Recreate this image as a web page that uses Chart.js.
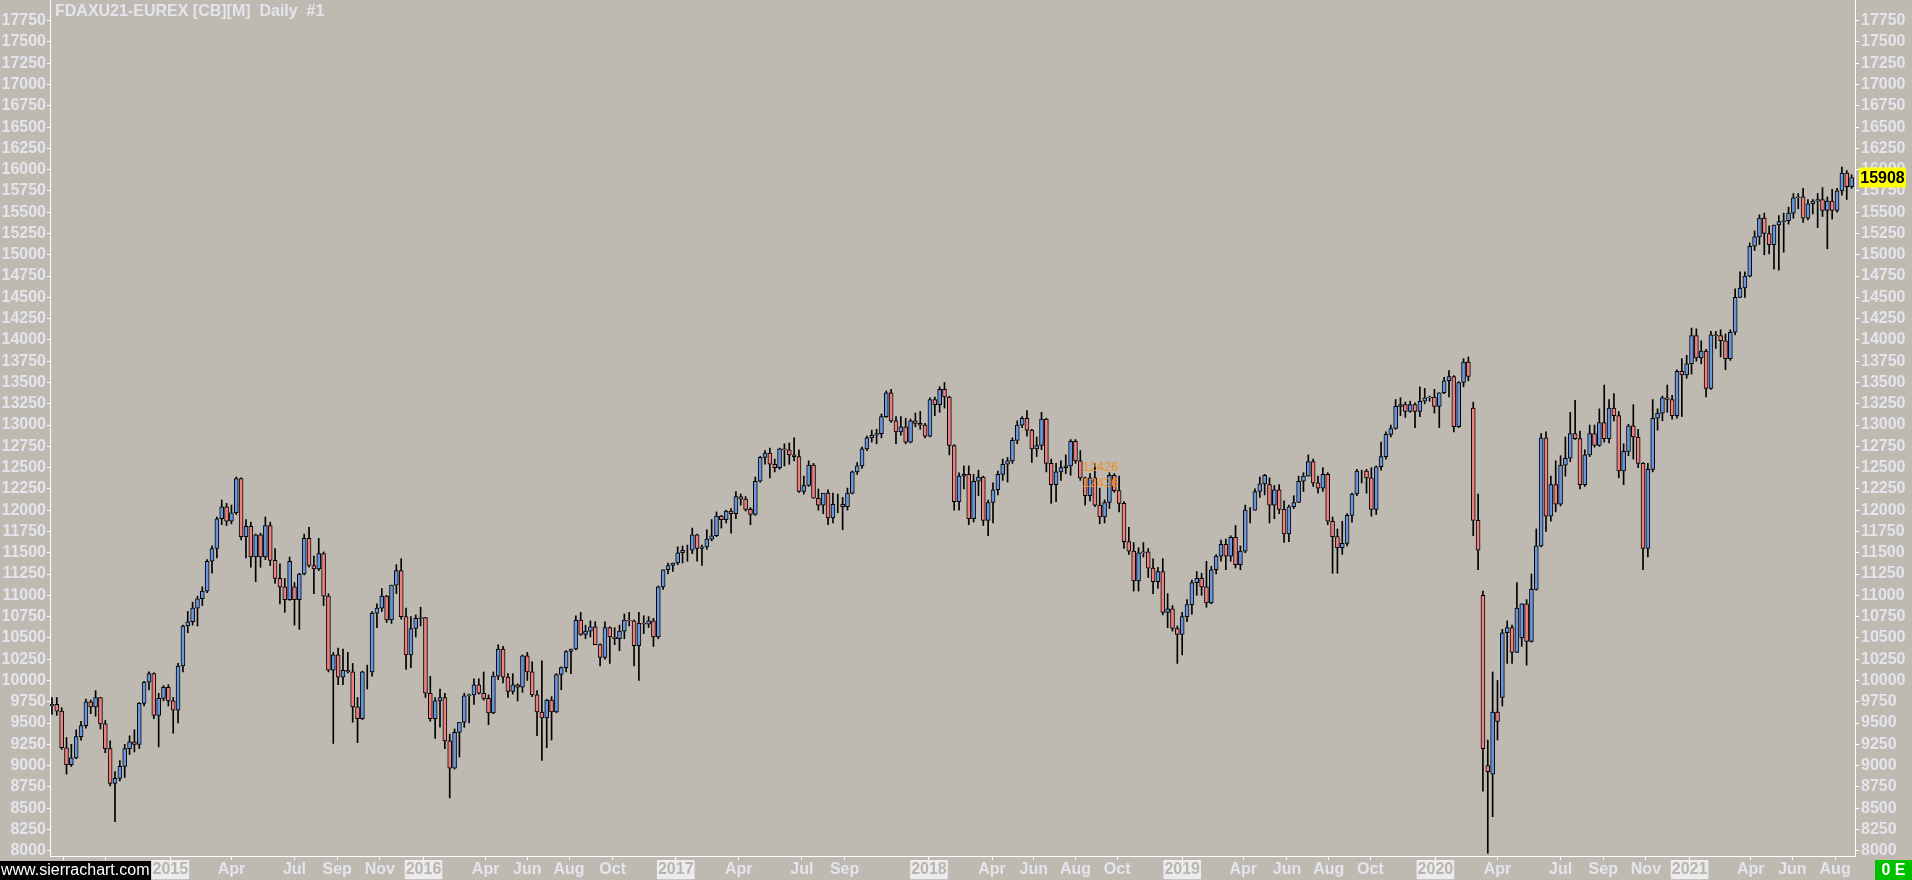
<!DOCTYPE html>
<html>
<head>
<meta charset="utf-8">
<title>FDAXU21-EUREX Daily</title>
<script src="https://cdn.jsdelivr.net/npm/chart.js@4.4.1/dist/chart.umd.min.js"></script>
<style>
  html, body { margin: 0; padding: 0; background: #bebab2; overflow: hidden; }
  canvas { display: block; }
</style>
</head>
<body>
<canvas id="chart" width="1912" height="880"></canvas>
<script>
// weekly candles, week 0 starts Monday 2014-07-14
const firstMonday = '2014-07-14';

const opens = [
  // 2014
  9700,9720,9640,9210,9010,9090,9340,9470,9750,9690,9800,9490,9200,8790,8850,8990,9200,9280,9250,9730,9980,10080,9590,9790,9920,
  // 2015
  9760,9650,10170,10640,10690,10850,10960,11050,11400,11550,11900,12040,11870,11970,12370,11690,11810,11450,11710,11450,11820,11410,11200,11100,10950,11100,
  10950,11250,11670,11350,11310,11490,10990,10120,10300,10040,10120,10100,9690,9550,10100,10100,10790,10850,10990,10710,11120,11290,10750,10300,10610,10730,
  // 2016
  10740,9850,9550,9760,9800,9290,8970,9390,9510,9820,9830,9950,9850,9790,9620,10050,10370,10040,9870,9950,9920,10290,10100,9830,9630,9560,
  9770,9630,10070,10150,10340,10370,10710,10540,10580,10630,10420,10270,10620,10510,10490,10580,10710,10700,10410,10670,10660,10700,10510,11100,11300,11350,
  // 2017
  11380,11500,11530,11530,11710,11550,11570,11660,11700,11930,11890,11990,11960,12160,12130,12010,11950,12340,12620,12670,12540,12500,12720,12710,12650,12630,
  12220,12290,12530,12140,12060,12200,11910,12070,12070,12040,12200,12450,12520,12720,12850,12880,12900,13100,13380,13050,12920,12980,12800,13050,13020,13000,
  // 2018
  12870,13300,13240,13420,13330,12760,12100,12400,12420,11900,12340,12390,11880,12090,12240,12420,12540,12580,12820,13000,13080,12940,12720,12760,13070,12550,
  12300,12450,12500,12520,12810,12580,12380,12170,12380,12060,11920,12090,12410,12230,12080,11630,11520,11170,11500,11510,11320,11160,11280,10800,10840,10610,10540,
  // 2019
  10750,10890,11150,11200,11100,10910,11300,11460,11600,11460,11680,11360,11520,12000,12000,12220,12310,12300,12060,12240,12010,11720,12040,12090,12340,12400,
  12570,12320,12260,12420,11870,11690,11560,11610,11940,12190,12460,12460,12380,12010,12510,12630,12890,12960,13220,13240,13160,13240,13160,13280,13320,13330,
  // 2020
  13220,13380,13520,13570,12980,13500,13740,13200,11880,11000,9000,8900,9630,9800,10560,10620,10330,10500,10900,10460,11070,11580,12850,11930,12300,12070,
  12530,12610,12900,12840,12300,12650,12900,12760,13030,12840,13200,13110,12460,12690,12990,12860,12550,11550,12480,13080,13140,13320,13300,13110,13630,13590,
  // 2021
  13720,14050,13790,13870,13430,14060,14050,13990,13780,14090,14500,14610,14750,15100,15210,15430,15250,15120,15350,15390,15400,15490,15670,15680,15430,15600,
  15630,15650,15520,15630,15520,15750,15960,15800
];

const highs = [
  9800,9800,9680,9330,9250,9420,9520,9780,9770,9880,9800,9530,9290,8930,9060,9250,9350,9420,9740,9990,10100,10090,9850,9940,9950,
  9800,10200,10650,10810,10920,10990,11100,11420,11580,11920,12120,12080,12060,12390,12380,11890,11860,11720,11730,11920,11860,11550,11370,11200,11450,11150,
  11260,11720,11800,11460,11670,11510,11020,10330,10380,10370,10330,10200,9800,10110,10180,10810,10900,11080,11000,11120,11360,11430,10850,10750,10770,10860,
  10740,10050,9800,9900,9850,9370,9430,9420,9850,9840,10020,10020,10100,9830,10100,10420,10400,10080,10080,9960,10300,10330,10220,9880,10230,9780,
  9810,10080,10160,10350,10370,10760,10800,10650,10700,10690,10430,10690,10630,10620,10650,10780,10800,10710,10800,10760,10750,10730,11110,11300,11380,11380,
  11570,11580,11590,11790,11720,11590,11770,11890,11980,11940,12000,12020,12220,12190,12160,12030,12390,12630,12700,12730,12600,12730,12780,12790,12850,12710,
  12400,12580,12550,12250,12190,12240,12200,12190,12150,12260,12460,12560,12740,12870,12940,12950,13130,13400,13420,13100,13100,13080,13070,13140,13160,13020,
  13320,13330,13450,13500,13340,12770,12440,12520,12520,12420,12470,12400,12120,12320,12460,12600,12620,12850,13050,13100,13170,12950,12860,13150,13080,12600,
  12550,12580,12650,12830,12830,12700,12390,12430,12550,12260,12120,12440,12430,12400,12100,11800,11620,11560,11620,11550,11430,11330,11430,11020,10880,10640,10800,
  10950,11180,11280,11260,11400,11340,11480,11650,11660,11700,11820,11580,12060,12030,12250,12390,12420,12380,12290,12300,12110,12060,12170,12400,12440,12650,
  12600,12400,12500,12440,11920,11780,11870,11960,12200,12480,12470,12480,12500,12520,12800,12920,13000,13300,13320,13270,13280,13260,13450,13430,13340,13420,
  13380,13560,13640,13580,13510,13780,13800,13270,12190,11050,9300,10100,10000,10600,10700,10650,11150,10900,10950,11250,11780,12900,12920,12400,12580,12640,
  12860,13150,13290,12930,12710,13000,13000,13190,13470,13300,13370,13160,12780,13010,13240,12950,12560,12550,13300,13190,13340,13470,13350,13650,13780,13820,
  14140,14130,13990,13890,14100,14100,14120,14070,14120,14600,14800,14800,15140,15280,15470,15490,15340,15350,15460,15490,15560,15720,15720,15780,15650,15650,
  15720,15790,15680,15770,15780,16030,15990,15940
];

const lows = [
  9600,9590,9190,8900,8990,9080,9300,9440,9610,9580,9430,9150,8760,8340,8820,8860,9130,9160,9200,9700,9890,9550,9220,9760,9700,
  9380,9500,10100,10560,10650,10640,10880,11030,11260,11440,11830,11820,11840,11950,11650,11440,11330,11160,11330,11420,11350,11140,10900,10800,10940,10650,
  10600,11240,11330,11020,11290,10880,10100,9260,9950,9950,10090,9510,9270,9540,9900,10050,10620,10810,10680,10670,11020,10720,10130,10150,10510,10640,
  9800,9520,9320,9450,9200,8620,8960,9100,9450,9500,9720,9840,9770,9480,9610,10010,9970,9800,9840,9760,9860,10000,9810,9350,9060,9210,
  9300,9620,9890,10100,10080,10360,10530,10490,10510,10420,10170,10250,10200,10420,10350,10490,10640,10170,10000,10550,10620,10400,10490,11070,11250,11280,
  11360,11380,11400,11490,11400,11350,11540,11640,11690,11790,11850,11730,11900,12060,11990,11830,11940,12330,12540,12380,12450,12480,12520,12540,12580,12210,
  12190,12280,12140,12000,11960,11830,11850,11970,11770,12000,12190,12420,12490,12700,12800,12780,12850,13090,13030,12780,12880,12780,12790,12980,12950,12850,
  12860,13110,13150,13200,12650,12000,12000,12250,11830,11860,12170,11820,11700,11850,12180,12350,12330,12550,12780,12970,12870,12560,12630,12710,12450,12080,
  12100,12350,12430,12410,12550,12350,12060,12110,12040,11840,11850,12020,12210,11980,11550,11480,11050,11050,11450,11210,11020,11080,10770,10620,10580,10200,10300,
  10690,10780,11000,11000,10860,10900,11250,11400,11300,11400,11320,11300,11500,11850,12000,12150,12180,11850,11900,11960,11620,11630,12020,12090,12220,12400,
  12280,12200,12220,11830,11260,11260,11480,11580,11860,12170,12320,12200,11930,11950,12470,12600,12860,12950,13110,13090,13150,12970,13100,13250,13280,13140,
  12970,13370,13330,12920,12970,13450,13520,11700,11300,8700,7970,8400,9300,9700,10200,10200,10330,10400,10180,10450,11060,11570,11750,11870,11980,12050,
  12400,12570,12830,12250,12280,12630,12740,12750,12800,12790,13050,12380,12300,12640,12600,12500,11300,11450,12450,12940,13050,13150,13070,13080,13100,13550,
  13600,13750,13720,13330,13420,13900,13800,13650,13760,14060,14500,14500,14740,15050,15120,15000,15010,14830,14820,15030,15360,15430,15540,15380,15410,15480,
  15320,15450,15070,15420,15500,15700,15650,15780
];

const closes = [
  9720,9640,9210,9010,9090,9340,9470,9750,9690,9800,9490,9200,8790,8850,8990,9200,9280,9250,9730,9980,10080,9590,9790,9920,9760,
  9650,10170,10640,10690,10850,10960,11050,11400,11550,11900,12040,11870,11970,12370,11690,11810,11450,11710,11450,11820,11410,11200,11100,10950,11400,10950,
  11250,11670,11350,11310,11490,10990,10120,10300,10040,10120,10100,9690,9550,10100,10100,10790,10850,10990,10710,11120,11290,10750,10300,10610,10730,10740,
  9850,9550,9760,9800,9290,8970,9390,9510,9820,9830,9950,9850,9790,9620,10050,10370,10040,9870,9950,9920,10290,10100,9830,9630,9560,9770,
  9630,10070,10150,10340,10370,10710,10540,10580,10630,10420,10270,10620,10510,10490,10580,10710,10700,10410,10670,10660,10700,10510,11100,11300,11350,11380,
  11500,11530,11530,11710,11550,11570,11660,11700,11930,11890,11990,11960,12160,12130,12010,11950,12340,12620,12670,12540,12500,12720,12710,12650,12630,12220,
  12290,12530,12140,12060,12200,11910,12070,12070,12040,12200,12450,12520,12720,12850,12880,12900,13100,13380,13050,12920,12980,12800,13050,13020,13000,12870,
  13300,13240,13420,13330,12760,12100,12400,12420,11900,12340,12390,11880,12090,12240,12420,12540,12580,12820,13000,13080,12940,12720,12760,13070,12550,12300,
  12450,12500,12520,12810,12580,12380,12170,12380,12060,11920,12090,12410,12230,12080,11630,11520,11170,11500,11510,11320,11160,11280,10800,10840,10610,10540,10750,
  10890,11150,11200,11100,10910,11300,11460,11600,11460,11680,11360,11520,12000,12000,12220,12310,12410,12060,12240,12010,11720,12040,12090,12340,12400,12570,
  12320,12260,12420,11870,11690,11560,11610,11940,12190,12460,12460,12380,12010,12510,12630,12890,12960,13220,13240,13160,13240,13160,13280,13320,13330,13220,
  13380,13520,13570,12980,13500,13740,13570,11880,11530,9200,8930,9630,9520,10560,10620,10330,10850,10900,10460,11070,11580,12850,11930,12300,12070,12530,
  12610,12900,12840,12300,12650,12900,12760,13030,12840,13200,13110,12460,12690,12990,12860,12550,11550,12480,13080,13140,13320,13300,13110,13630,13590,13720,
  14050,13790,13870,13430,14060,14050,13990,13780,14090,14500,14610,14750,15100,15210,15430,15250,15120,15350,15390,15400,15490,15670,15680,15430,15600,15630,
  15650,15520,15630,15520,15750,15960,15800,15908
];

// price scale labels (both sides)
const yTicks = [8000,8250,8500,8750,9000,9250,9500,9750,10000,10250,10500,10750,11000,11250,11500,11750,
  12000,12250,12500,12750,13000,13250,13500,13750,14000,14250,14500,14750,15000,15250,15500,15750,
  16000,16250,16500,16750,17000,17250,17500,17750];

// date axis: first trading day of the labelled months
const monthTickDates = ['2014-08-01','2014-10-01','2015-01-02','2015-04-01','2015-07-01','2015-09-01','2015-11-02',
  '2016-01-04','2016-04-01','2016-06-01','2016-08-01','2016-10-03','2017-01-02','2017-04-03','2017-07-03','2017-09-01',
  '2018-01-02','2018-04-03','2018-06-01','2018-08-01','2018-10-01','2019-01-02','2019-04-01','2019-06-03','2019-08-01',
  '2019-10-01','2020-01-02','2020-04-01','2020-07-01','2020-09-01','2020-11-02','2021-01-04','2021-04-01','2021-06-01','2021-08-02'];
const monthTickLabels = ['Aug','Oct','2015','Apr','Jul','Sep','Nov','2016','Apr','Jun','Aug','Oct','2017','Apr','Jul','Sep',
  '2018','Apr','Jun','Aug','Oct','2019','Apr','Jun','Aug','Oct','2020','Apr','Jul','Sep','Nov','2021','Apr','Jun','Aug'];

const chartTitle = 'FDAXU21-EUREX [CB][M]  Daily  #1';
const markLevel = 12426;
const markDate = '2018-08-14';

const BG = '#bebab2';
const LABEL = '#e4e4ec';
const FONT = '"Liberation Sans", Arial, sans-serif';

// week position of a calendar date (week i is centred on i)
function weekPos(dateStr) {
  const [y0, m0, d0] = firstMonday.split('-').map(Number);
  const [y, m, d] = dateStr.split('-').map(Number);
  const days = Math.round((Date.UTC(y, m - 1, d) - Date.UTC(y0, m0 - 1, d0)) / 86400000);
  const wk = Math.floor(days / 7);
  const dow = days - wk * 7;
  return wk + (Math.min(dow, 5) - 2) / 5;
}

const tickPos = monthTickDates.map(weekPos);
const isYear = monthTickLabels.map(l => /^\d{4}$/.test(l));

const wickData = closes.map((c, i) => ({ x: i, y: [lows[i], highs[i]] }));
const bodyData = closes.map((c, i) => ({ x: i, y: [opens[i], c] }));
const bodyColors = closes.map((c, i) => c >= opens[i] ? '#6a96e0' : '#ee8080');

function noPad(s) {
  s.paddingTop = 0; s.paddingBottom = 0; s.paddingLeft = 0; s.paddingRight = 0;
}

const yAxis = (pos, width, tl, pad) => ({
  type: 'linear',
  position: pos,
  min: 7938,
  max: 17993,
  afterBuildTicks: s => { s.ticks = yTicks.map(v => ({ value: v })); },
  afterFit: s => { s.width = width; noPad(s); },
  ticks: {
    autoSkip: false,
    color: LABEL,
    padding: pad,
    font: { family: FONT, size: 16, weight: 'bold' },
    callback: v => String(v)
  },
  grid: { drawOnChartArea: false, drawTicks: true, tickLength: tl, color: '#ffffff' },
  border: { display: true, color: '#ffffff', width: 1 }
});

const overlay = {
  id: 'overlay',
  beforeDraw(chart) {
    const c = chart.ctx;
    c.save();
    c.fillStyle = BG;
    c.fillRect(0, 0, chart.width, chart.height);
    c.restore();
  },
  afterDraw(chart) {
    const c = chart.ctx, xs = chart.scales.x, ys = chart.scales.y, area = chart.chartArea;
    c.save();
    // title
    c.font = 'bold 16px ' + FONT;
    c.fillStyle = LABEL;
    c.textAlign = 'left';
    c.textBaseline = 'alphabetic';
    c.fillText(chartTitle, area.left + 5, 16);

    // price marker drawing
    const mx = xs.getPixelForValue(weekPos(markDate));
    const my = ys.getPixelForValue(markLevel);
    c.font = '13px ' + FONT;
    c.fillStyle = '#f39020';
    c.textBaseline = 'bottom';
    c.fillText(String(markLevel), mx - 2, my);
    c.textBaseline = 'top';
    c.fillText(String(markLevel), mx - 2, my + 3);

    // last price box
    const last = closes[closes.length - 1];
    const py = ys.getPixelForValue(last);
    c.fillStyle = '#ffff00';
    c.fillRect(area.right + 4, py - 10, 47, 20);
    c.fillStyle = '#000000';
    c.font = 'bold 16px ' + FONT;
    c.textAlign = 'center';
    c.textBaseline = 'middle';
    c.fillText(String(last), area.right + 27.5, py + 1);

    // status box bottom right
    c.fillStyle = '#00c000';
    c.fillRect(1875, 860, 37, 20);
    c.fillStyle = '#ffffff';
    c.fillText('0 E', 1893.5, 870.5);

    // watermark bottom left
    c.fillStyle = '#000000';
    c.fillRect(0, 861, 151, 19);
    c.fillStyle = '#ffffff';
    c.font = '16px ' + FONT;
    c.textAlign = 'left';
    c.fillText('www.sierrachart.com', 1, 871);
    c.restore();
  }
};

new Chart(document.getElementById('chart'), {
  type: 'bar',
  data: {
    datasets: [
      {
        label: 'range',
        data: wickData,
        backgroundColor: '#000000',
        barThickness: 1,
        grouped: false,
        order: 2
      },
      {
        label: 'body',
        data: bodyData,
        backgroundColor: bodyColors,
        borderColor: '#000000',
        borderWidth: 1,
        borderSkipped: false,
        barThickness: 4,
        grouped: false,
        order: 1
      }
    ]
  },
  options: {
    responsive: false,
    devicePixelRatio: 1,
    animation: false,
    layout: { padding: 0, autoPadding: false },
    plugins: {
      legend: { display: false },
      tooltip: { enabled: false }
    },
    scales: {
      x: {
        type: 'linear',
        min: -0.4,
        max: 371.7,
        offset: false,
        afterBuildTicks: s => { s.ticks = tickPos.map(v => ({ value: v })); },
        afterFit: s => { s.height = 24; noPad(s); },
        ticks: {
          autoSkip: false,
          maxRotation: 0,
          padding: 0,
          font: { family: FONT, size: 16, weight: 'bold' },
          color: ctx => isYear[ctx.index] ? '#b9b5ad' : LABEL,
          showLabelBackdrop: ctx => isYear[ctx.index],
          backdropColor: '#ebebee',
          backdropPadding: { x: 1, y: 0 },
          callback: (v, i) => monthTickLabels[i]
        },
        grid: { offset: false, drawOnChartArea: false, drawTicks: true, tickLength: 4, color: '#ffffff' },
        border: { display: true, color: '#ffffff', width: 1 }
      },
      y: yAxis('left', 50, 3, 1),
      y2: yAxis('right', 57, 4, 2)
    }
  },
  plugins: [overlay]
});
</script>
</body>
</html>
